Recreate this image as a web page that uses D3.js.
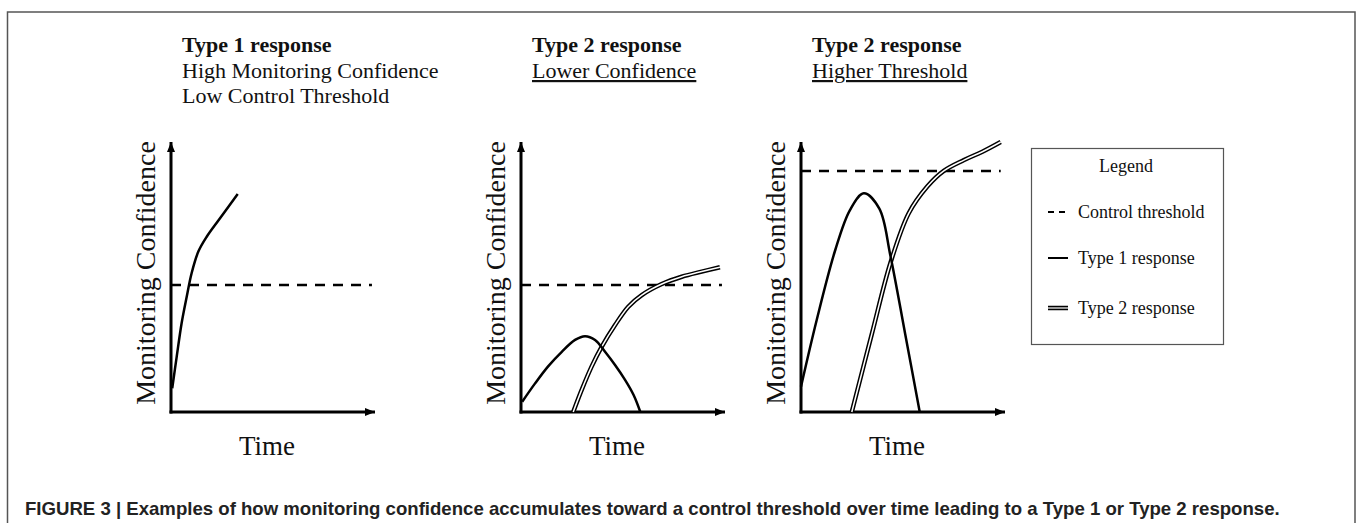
<!DOCTYPE html>
<html>
<head>
<meta charset="utf-8">
<script src="https://cdn.jsdelivr.net/npm/d3@7"></script>
<style>
  body { margin: 0; background: #fff; }
  svg { display: block; }
</style>
</head>
<body>
<div id="chart"></div>
<script>
// panel texts
const panelTitles = ['Type 1 response', 'Type 2 response', 'Type 2 response'];
const panelSubtitles = [
    ['High Monitoring Confidence', 'Low Control Threshold'],
    ['Lower Confidence'],
    ['Higher Threshold']
];
const underlined = [false, true, true];
const xLabel = 'Time';
const yLabel = 'Monitoring Confidence';

// control threshold level per panel, and where the dashes stop
const thresholds = [4.7, 4.7, 8.93];
const thresholdEnds = [9.85, 9.85, 9.79];

// monitoring confidence curves, [time, confidence]
const type1Curves = [
    [[0.06, 0.88], [0.28, 2.05], [0.52, 3.29], [0.77, 4.27], [1.01, 5.14], [1.34, 5.94], [1.75, 6.49], [2.34, 7.11], [3.27, 8.07]],
    [[0.06, 0.38], [0.69, 1.06], [1.34, 1.7], [2.0, 2.23], [2.65, 2.67], [3.14, 2.81], [3.63, 2.67], [4.12, 2.23], [4.61, 1.74], [5.1, 1.19], [5.52, 0.63], [5.85, 0]],
    [[0, 0.94], [0.77, 3.41], [1.68, 6.0], [2.4, 7.48], [3.08, 8.1], [3.84, 7.53], [4.38, 5.8], [5.1, 2.92], [5.82, 0]]
];
const type2Curves = [
    null,
    [[2.56, 0], [2.97, 0.81], [3.46, 1.68], [3.96, 2.42], [4.61, 3.22], [5.26, 3.9], [5.92, 4.33], [6.9, 4.74], [7.88, 5.01], [8.86, 5.2], [9.75, 5.36]],
    [[2.49, 0], [3.48, 2.91], [4.38, 5.51], [5.28, 7.36], [6.19, 8.35], [7.0, 8.93], [7.99, 9.33], [8.89, 9.64], [9.79, 10.0]]
];

const legendTitle = 'Legend';
const legendLabels = ['Control threshold', 'Type 1 response', 'Type 2 response'];
const caption = 'FIGURE 3 | Examples of how monitoring confidence accumulates toward a control threshold over time leading to a Type 1 or Type 2 response.';

const width = 1357;
const height = 523;
const serif = '"Liberation Serif", "Times New Roman", serif';

const svg = d3.select('#chart')
    .append('svg')
    .attr('width', width)
    .attr('height', height);

// arrow head for the axes
svg.append('defs').append('marker')
    .attr('id', 'arrow')
    .attr('viewBox', '0 0 10 8')
    .attr('refX', 10)
    .attr('refY', 4)
    .attr('markerWidth', 10)
    .attr('markerHeight', 8)
    .attr('markerUnits', 'userSpaceOnUse')
    .attr('orient', 'auto')
    .append('path')
    .attr('d', 'M0,0 L10,4 L0,8 Z')
    .attr('fill', '#000');

// frame, open at the bottom
svg.append('path')
    .attr('d', `M7.5,${height} V12 H1355 V${height}`)
    .attr('fill', 'none')
    .attr('stroke', '#555')
    .attr('stroke-width', 1.5);

const panelX = [171, 521, 801];
const plotW = 204;

panelX.forEach((x0, i) => {
    const x = d3.scaleLinear().domain([0, 10]).range([x0, x0 + plotW]);
    const y = d3.scaleLinear().domain([0, 10]).range([412, 142]);
    const g = svg.append('g');

    // titles
    const t = g.append('text')
        .attr('x', x0 + 11)
        .attr('y', 52)
        .attr('font-family', serif)
        .attr('font-size', 22)
        .attr('fill', '#111');
    t.append('tspan').attr('font-weight', 'bold').text(panelTitles[i]);
    panelSubtitles[i].forEach((s, k) => {
        t.append('tspan')
            .attr('x', x0 + 11)
            .attr('y', 78 + k * 25)
            .attr('text-decoration', underlined[i] ? 'underline' : null)
            .text(s);
    });

    // axes
    g.append('line')
        .attr('x1', x(0)).attr('y1', y(0) + 1.5)
        .attr('x2', x(0)).attr('y2', y(10))
        .attr('stroke', '#000').attr('stroke-width', 3)
        .attr('marker-end', 'url(#arrow)');
    g.append('line')
        .attr('x1', x(0) - 1.5).attr('y1', y(0))
        .attr('x2', x(10)).attr('y2', y(0))
        .attr('stroke', '#000').attr('stroke-width', 3)
        .attr('marker-end', 'url(#arrow)');

    g.append('text')
        .attr('transform', `translate(${x0 - 16},273) rotate(-90)`)
        .attr('text-anchor', 'middle')
        .attr('font-family', serif)
        .attr('font-size', 28)
        .attr('fill', '#111')
        .text(yLabel);

    g.append('text')
        .attr('x', x0 + 96)
        .attr('y', 455)
        .attr('text-anchor', 'middle')
        .attr('font-family', serif)
        .attr('font-size', 27)
        .attr('fill', '#111')
        .text(xLabel);

    // control threshold
    g.append('line')
        .attr('x1', x(0)).attr('y1', y(thresholds[i]))
        .attr('x2', x(thresholdEnds[i])).attr('y2', y(thresholds[i]))
        .attr('stroke', '#000').attr('stroke-width', 2.5)
        .attr('stroke-dasharray', '10,8');

    const line = d3.line()
        .x(d => x(d[0]))
        .y(d => y(d[1]))
        .curve(d3.curveCatmullRom.alpha(0.5));

    if (type2Curves[i]) {
        g.append('path')
            .attr('d', line(type2Curves[i]))
            .attr('fill', 'none').attr('stroke', '#000').attr('stroke-width', 4.5);
        g.append('path')
            .attr('d', line(type2Curves[i]))
            .attr('fill', 'none').attr('stroke', '#fff').attr('stroke-width', 1.5);
    }

    g.append('path')
        .attr('d', line(type1Curves[i]))
        .attr('fill', 'none')
        .attr('stroke', '#000')
        .attr('stroke-width', 2.5);
});

// legend
const lg = svg.append('g');
lg.append('rect')
    .attr('x', 1031.5).attr('y', 148.5)
    .attr('width', 192).attr('height', 196)
    .attr('fill', 'none').attr('stroke', '#555').attr('stroke-width', 1.2);
lg.append('text')
    .attr('x', 1126).attr('y', 172)
    .attr('text-anchor', 'middle')
    .attr('font-family', serif).attr('font-size', 18).attr('fill', '#111')
    .text(legendTitle);

const legendY = [212, 258, 308];
legendLabels.forEach((label, k) => {
    const yy = legendY[k];
    if (k === 0) {
        lg.append('line').attr('x1', 1048).attr('x2', 1068).attr('y1', yy).attr('y2', yy)
            .attr('stroke', '#000').attr('stroke-width', 2).attr('stroke-dasharray', '6,5');
    } else if (k === 1) {
        lg.append('line').attr('x1', 1048).attr('x2', 1068).attr('y1', yy).attr('y2', yy)
            .attr('stroke', '#000').attr('stroke-width', 2);
    } else {
        lg.append('line').attr('x1', 1048).attr('x2', 1068).attr('y1', yy).attr('y2', yy)
            .attr('stroke', '#000').attr('stroke-width', 4.5);
        lg.append('line').attr('x1', 1048).attr('x2', 1068).attr('y1', yy).attr('y2', yy)
            .attr('stroke', '#fff').attr('stroke-width', 1.2);
    }
    lg.append('text')
        .attr('x', 1078).attr('y', yy + 6)
        .attr('font-family', serif).attr('font-size', 18).attr('fill', '#111')
        .text(label);
});

// caption
svg.append('text')
    .attr('x', 25).attr('y', 515)
    .attr('font-family', '"Liberation Sans", Arial, sans-serif')
    .attr('font-weight', 'bold')
    .attr('font-size', 18.6)
    .attr('fill', '#222')
    .text(caption);
</script>
</body>
</html>
